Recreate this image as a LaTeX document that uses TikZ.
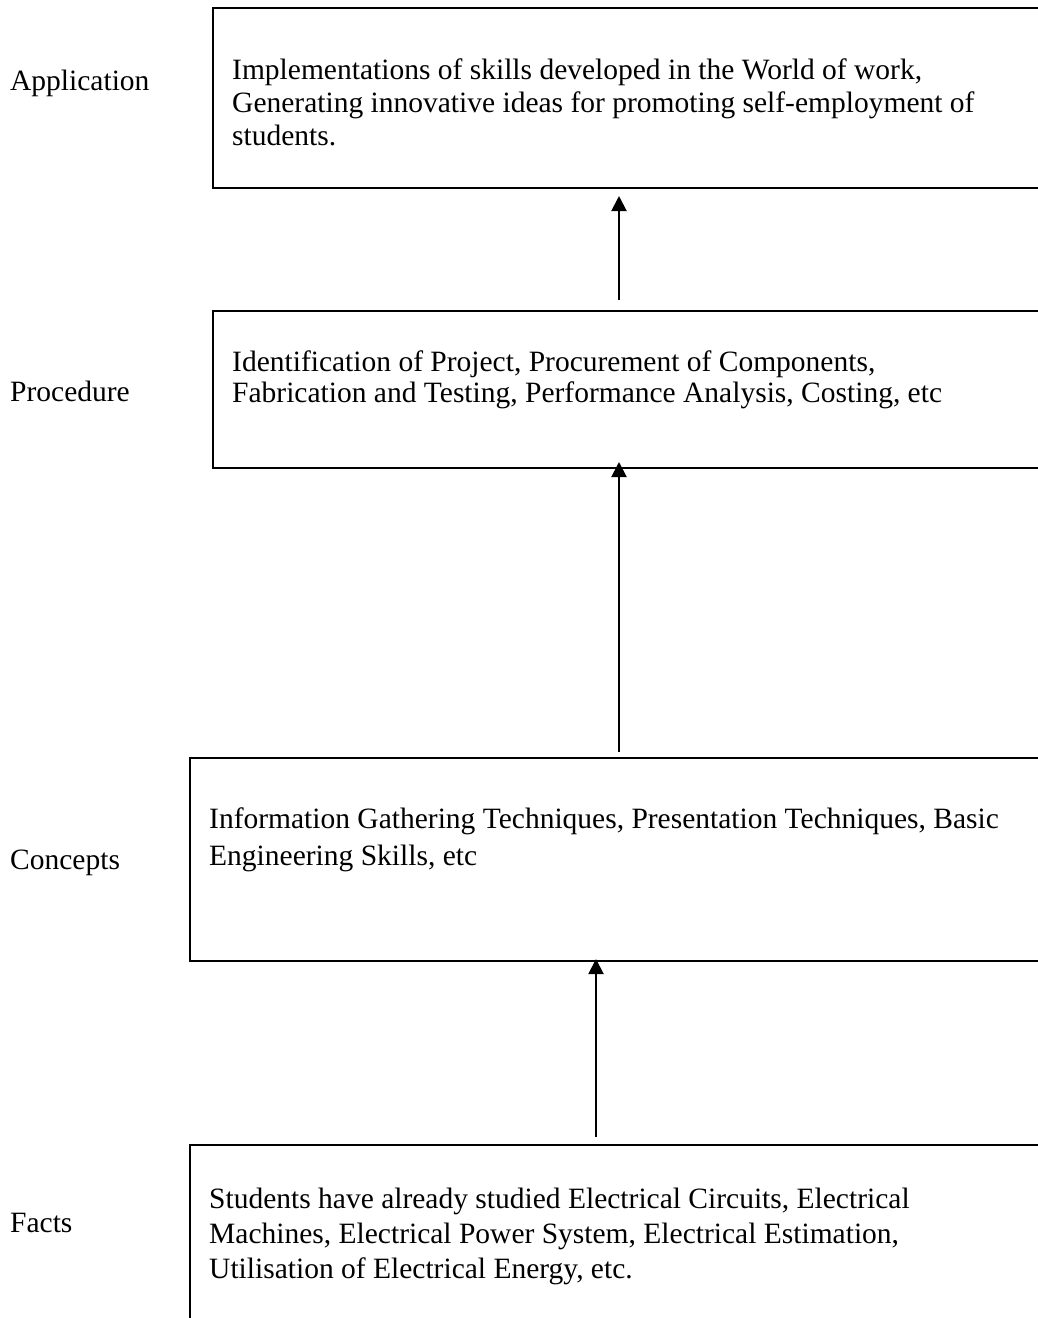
\documentclass[tikz,border=0pt]{standalone}
\usepackage{fontspec}
\setmainfont{Liberation Serif}
\usetikzlibrary{arrows.meta}
\begin{document}
\begin{tikzpicture}[x=1pt,y=-1pt,
  boxstyle/.style={draw, line width=2pt, anchor=north west, inner sep=0pt, minimum width=880pt},
  txt/.style={anchor=base west, align=left, inner sep=0pt, font=\fontsize{29.5}{34}\selectfont},
  lbl/.style={anchor=base west, inner sep=0pt, font=\fontsize{29.5}{34}\selectfont},
  arr/.style={line width=2pt, -{Triangle[width=15pt,length=15pt]}}]
\useasboundingbox (0,0) rectangle (1038,1318);
\clip (0,0) rectangle (1038,1318);
% boxes
\node[boxstyle, minimum height=180pt] (box1) at (212,7) {};
\node[boxstyle, minimum height=157pt] (box2) at (212,310) {};
\node[boxstyle, minimum height=203pt] (box3) at (189,757) {};
\node[boxstyle, minimum height=200pt] (box4) at (189,1144) {};
% box texts (anchored at the baseline of the last line)
\node[txt, font=\fontsize{29.5}{33}\selectfont] (t1) at (232,145) {Implementations of skills developed in the World of work,\\Generating innovative ideas for promoting self-employment of\\students.};
\node[txt, font=\fontsize{29.5}{31}\selectfont] (t2) at (232,402) {Identification of Project, Procurement of Components,\\Fabrication and Testing, Performance Analysis, Costing, etc};
\node[txt, font=\fontsize{29.5}{37}\selectfont] (t3) at (209,865) {Information Gathering Techniques, Presentation Techniques, Basic\\Engineering Skills, etc};
\node[txt, font=\fontsize{29.5}{35}\selectfont] (t4) at (209,1278) {Students have already studied Electrical Circuits, Electrical\\Machines, Electrical Power System, Electrical Estimation,\\Utilisation of Electrical Energy, etc.};
% labels
\node[lbl] (l1) at (10,90) {Application};
\node[lbl] (l2) at (10,401) {Procedure};
\node[lbl] (l3) at (10,869) {Concepts};
\node[lbl] (l4) at (10,1232) {Facts};
% arrows
\coordinate (a1) at (619,300);
\coordinate (a2) at (619,752);
\coordinate (a3) at (596,1137);
\draw[arr] (a1) -- ([yshift=-7pt]a1 |- box1.south);
\draw[arr] (a2) -- ([yshift=7pt]a2 |- box2.south);
\draw[arr] (a3) -- ([yshift=3pt]a3 |- box3.south);
\end{tikzpicture}
\end{document}
